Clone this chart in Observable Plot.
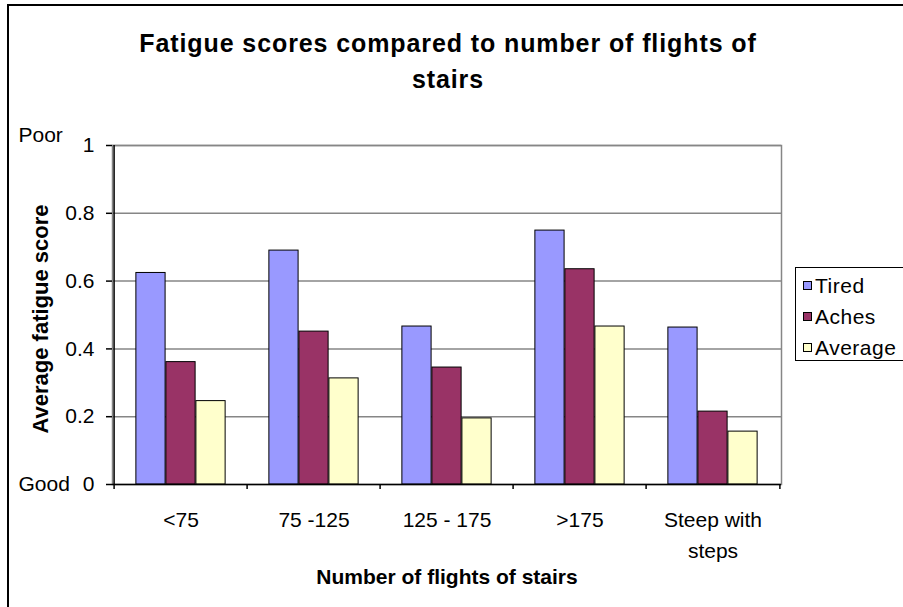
<!DOCTYPE html>
<html>
<head>
<meta charset="utf-8">
<script src="https://cdn.jsdelivr.net/npm/d3@7"></script>
<script src="https://cdn.jsdelivr.net/npm/@observablehq/plot@0.6"></script>
<style>
  html, body { margin: 0; padding: 0; background: #fff; }
  #chart { position: relative; width: 903px; height: 607px; overflow: hidden; font-family: "Liberation Sans", Arial, sans-serif; color: #000; }
  #chart svg { position: absolute; left: 0; top: 0; }
  .outline { position: absolute; left: 7px; top: 4px; width: 1000px; height: 1000px; border-left: 2px solid #000; border-top: 2px solid #000; pointer-events: none; }
  .title { position: absolute; left: 0; top: 25px; width: 896px; text-align: center; font-weight: bold; font-size: 25px; line-height: 36px; letter-spacing: 0.9px; }
  .legend { position: absolute; left: 795px; top: 267px; width: 130px; height: 94px; border: 1px solid #000; background: #fff; box-sizing: border-box; padding-top: 1.5px; }
  .legend .row { display: flex; align-items: center; height: 31.3px; line-height: 31.3px; font-size: 21px; letter-spacing: 0.5px; padding-left: 7px; }
  .legend .sw { width: 9px; height: 9px; border: 1px solid #000; box-sizing: border-box; margin-right: 3px; flex: none; }
</style>
</head>
<body>
<div id="chart"></div>
<script>
// Fatigue scores by stair category
const categories = ["<75", "75 -125", "125 - 175", ">175", "Steep with\nsteps"];
const series = ["Tired", "Aches", "Average"];
const tired = [0.624, 0.690, 0.466, 0.749, 0.463];
const aches = [0.361, 0.451, 0.345, 0.635, 0.215];
const average = [0.246, 0.313, 0.195, 0.466, 0.156];
const yTicks = [0, 0.2, 0.4, 0.6, 0.8, 1];
const colors = ["#9999FF", "#993366", "#FFFFCC"];

const values = {Tired: tired, Aches: aches, Average: average};
const rows = series.flatMap(s => categories.map((c, i) => ({category: c, series: s, value: values[s][i]})));

// layout
const W = 903, H = 607;
const mL = 112, mR = 122, mT = 145, mB = 123;
const step = (W - mL - mR) / categories.length;
const groupWidth = step * 0.673;
const inner = d3.scaleBand().domain(series).range([-groupWidth / 2, groupWidth / 2]);

const bars = series.map((s, k) => Plot.barY(rows.filter(d => d.series === s), {
  x: "category",
  y: "value",
  fill: colors[k],
  stroke: "#000",
  strokeWidth: 1,
  insetLeft: step / 2 + inner(s),
  insetRight: step / 2 - inner(s) - inner.bandwidth()
}));

const plot = Plot.plot({
  width: W,
  height: H,
  marginLeft: mL,
  marginRight: mR,
  marginTop: mT,
  marginBottom: mB,
  x: {domain: categories, padding: 0, axis: null},
  y: {domain: [0, 1], axis: null},
  style: {fontFamily: "'Liberation Sans', Arial, sans-serif", color: "#000", background: "transparent", overflow: "visible"},
  marks: [
    Plot.ruleY(yTicks.filter(v => v > 0), {stroke: "#868686", strokeWidth: 1.5}),
    Plot.frame({stroke: "#868686", strokeWidth: 1.5}),
    ...bars,
    // value axis
    Plot.axisY({ticks: yTicks, tickSize: 6, tickPadding: 12, fontSize: 21, tickFormat: d => String(d), label: null, strokeWidth: 1.5}),
    Plot.ruleX([categories[0]], {dx: -step / 2, stroke: "#000", strokeWidth: 1.5}),
    Plot.ruleY([0], {stroke: "#000", strokeWidth: 1.5}),
    // category boundary ticks
    Plot.axisX({ticks: categories, tickSize: 5, dx: -step / 2, tickFormat: () => "", label: null, strokeWidth: 1.5}),
    Plot.axisX({ticks: [categories[categories.length - 1]], tickSize: 5, dx: step / 2, tickFormat: () => "", label: null, strokeWidth: 1.5}),
    // category labels
    Plot.text(categories, {x: d => d, text: d => d, frameAnchor: "bottom", lineAnchor: "top", dy: 21, fontSize: 21, lineHeight: 1.45}),
    // axis titles
    Plot.text(["Number of flights of stairs"], {frameAnchor: "bottom", dy: 99, fontSize: 21, fontWeight: "bold"}),
    Plot.text(["Average fatigue score"], {frameAnchor: "left", textAnchor: "middle", dx: -71.5, dy: 4, rotate: -90, fontSize: 22, fontWeight: "bold"}),
    // scale end descriptions
    Plot.text(["Poor"], {y: [1], frameAnchor: "left", textAnchor: "start", dx: -94, dy: -10, fontSize: 21}),
    Plot.text(["Good"], {y: [0], frameAnchor: "left", textAnchor: "start", dx: -94, fontSize: 21})
  ]
});

const chart = document.getElementById("chart");
chart.appendChild(plot);

const title = document.createElement("div");
title.className = "title";
title.innerHTML = "Fatigue scores compared to number of flights of<br>stairs";
chart.appendChild(title);

const legend = document.createElement("div");
legend.className = "legend";
series.forEach((s, k) => {
  const row = document.createElement("div");
  row.className = "row";
  const sw = document.createElement("span");
  sw.className = "sw";
  sw.style.background = colors[k];
  const label = document.createElement("span");
  label.textContent = s;
  row.appendChild(sw);
  row.appendChild(label);
  legend.appendChild(row);
});
chart.appendChild(legend);

const outline = document.createElement("div");
outline.className = "outline";
chart.appendChild(outline);
</script>
</body>
</html>
